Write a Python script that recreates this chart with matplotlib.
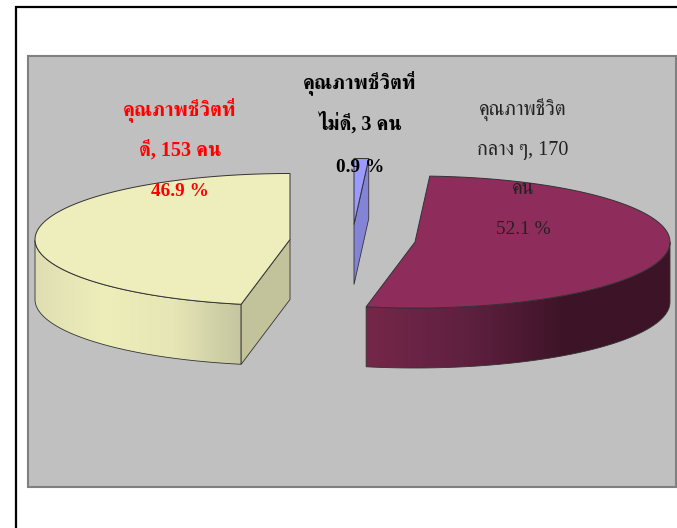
import matplotlib
matplotlib.use('Agg')
import matplotlib.pyplot as plt
import numpy as np
from matplotlib.colors import LinearSegmentedColormap
from matplotlib.patches import Polygon, Rectangle

# slices clockwise from 12 o'clock
people = [3, 170, 153]
percent_labels = ['0.9 %', '52.1 %', '46.9 %']
name_lines = [
    ['คุณภาพชีวิตที่', 'ไม่ดี, 3 คน'],
    ['คุณภาพชีวิต', 'กลาง ๆ, 170', 'คน'],
    ['คุณภาพชีวิตที่', 'ดี, 153 คน'],
]

thai_fonts = ['Liberation Serif', 'FreeSerif', 'Noto Serif Thai', 'DejaVu Sans']
plt.rcParams['font.family'] = thai_fonts

rx, ry, depth = 255, 66, 60
centers = [(354, 224.5), (415, 242), (290, 239.5)]
top_colors = ['#9a9aff', '#8e2d5b', '#eeeebd']
face_colors = ['#8484d6', '#732548', '#c2c29b']
wall_stops = [
    ['#8484d6', '#8484d6'],
    ['#752749', '#5f2040', '#3c1327', '#3c1327'],
    ['#dedeb2', '#eeeebb', '#e6e6b6', '#c5c5a0'],
]
edge = '#333333'
# where each label block sits: x, y of the lines
text_x = [360, 523, 180]
text_y = [[83, 123, 167], [110, 150, 190, 230], [110, 150, 191]]
text_colors = ['black', '#222222', '#ff0000']
text_weight = ['bold', 'normal', 'bold']

fig = plt.figure(figsize=(6.77, 5.28), dpi=100)
ax = fig.add_axes([0, 0, 1, 1])
ax.set_xlim(0, 677)
ax.set_ylim(528, 0)
ax.axis('off')

# outer frame runs off the right and bottom of the picture
ax.add_patch(Rectangle((16, 6.5), 700, 560, fc='white', ec='black', lw=1.6, zorder=0))
ax.add_patch(Rectangle((28, 55.5), 648, 431.5, fc='#c0c0c0', ec='#808080', lw=1.5, zorder=1))

total = sum(people)
start = 0.0
for i, n in enumerate(people):
    end = start + n / total * 360
    cx, cy = centers[i]
    a = np.radians(np.linspace(start, end, 200))
    xs = cx + rx * np.sin(a)
    ys = cy - ry * np.cos(a)

    # outer wall, only the part on the front of the ellipse
    front = (a > np.pi / 2) & (a < 3 * np.pi / 2)
    if front.sum() > 1:
        fx, fy = xs[front], ys[front]
        wall = np.vstack([np.column_stack([fx, fy]),
                          np.column_stack([fx[::-1], fy[::-1] + depth])])
        cmap = LinearSegmentedColormap.from_list('w%d' % i, wall_stops[i])
        grad = np.linspace(0, 1, 256).reshape(1, -1)
        im = ax.imshow(grad, cmap=cmap, aspect='auto', zorder=2,
                       extent=(fx.min(), fx.max(), fy.max() + depth, fy.min()))
        poly = Polygon(wall, closed=True, fc='none', ec=edge, lw=0.6, zorder=3)
        ax.add_patch(poly)
        im.set_clip_path(poly)

    # cut faces that turn towards the viewer
    for ang, seen in [(start, np.sin(np.radians(start)) < -1e-6),
                      (end, np.sin(np.radians(end)) > 1e-6)]:
        if seen:
            ex = cx + rx * np.sin(np.radians(ang))
            ey = cy - ry * np.cos(np.radians(ang))
            ax.add_patch(Polygon([(cx, cy), (ex, ey), (ex, ey + depth), (cx, cy + depth)],
                                 closed=True, fc=face_colors[i], ec=edge, lw=0.6, zorder=3))

    top = np.vstack([[cx, cy], np.column_stack([xs, ys])])
    ax.add_patch(Polygon(top, closed=True, fc=top_colors[i], ec=edge, lw=0.7, zorder=4))

    for line, y in zip(name_lines[i], text_y[i]):
        ax.text(text_x[i], y, line, ha='center', va='center', fontsize=14.5,
                color=text_colors[i], fontweight=text_weight[i], zorder=6)
    ax.text(text_x[i], text_y[i][-1], percent_labels[i], ha='center', va='center', fontsize=13.9,
            color=text_colors[i], fontweight=text_weight[i], zorder=6)
    start = end

fig.savefig('out.png', dpi=100)
